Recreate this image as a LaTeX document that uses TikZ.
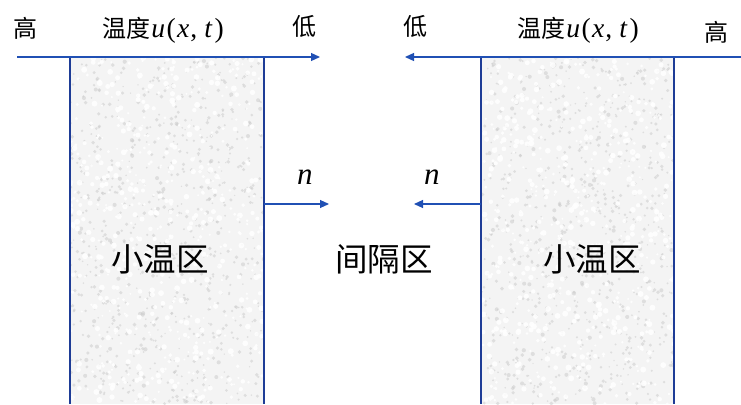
\documentclass[tikz,border=0pt]{standalone}
\usepackage{fontspec}
\newfontfamily\cjk{Noto Sans CJK SC}
\newfontfamily\serif[Scale=1.15]{Liberation Serif}
\newcommand{\uxt}{{\serif\kern1pt{\itshape u}\kern1.5pt(\kern1.5pt{\itshape x}\kern1pt,\kern7pt{\itshape t}\kern2.5pt)}}
\usetikzlibrary{arrows.meta}
\definecolor{lineblue}{RGB}{32,80,180}
\definecolor{edgeblue}{RGB}{30,60,150}
\tikzset{
  axis/.style={draw=lineblue, line width=1.3pt, -{Triangle[length=9pt,width=8pt]}},
  normal/.style={draw=lineblue, line width=1.1pt, -{Triangle[length=9pt,width=8pt]}},
  wall/.style={draw=edgeblue, line width=1.3pt},
  toplabel/.style={font=\cjk\fontsize{24}{28}\selectfont, inner sep=0pt},
  zonelabel/.style={font=\cjk\fontsize{32.5}{36}\selectfont, inner sep=0pt},
  nlabel/.style={font=\serif\itshape\fontsize{27}{30}\selectfont, inner sep=0pt},
}
\begin{document}
\begin{tikzpicture}[x=1pt,y=-1pt]
\useasboundingbox (0,0) rectangle (741,404);
% textured fills
\pgfmathsetseed{7}
\foreach \xa/\xb in {70/264, 481/674}{
  \begin{scope}
    \clip (\xa,57) rectangle (\xb,404);
    \fill[gray!9] (\xa,57) rectangle (\xb,404);
    \foreach \i in {1,...,800}{
      \pgfmathsetmacro{\px}{\xa+rnd*(\xb-\xa)}
      \pgfmathsetmacro{\py}{57+rnd*347}
      \pgfmathsetmacro{\rr}{0.7+rnd*1.4}
      \fill[gray!40, opacity=0.55] (\px,\py) circle[radius=\rr];
    }
    \foreach \i in {1,...,600}{
      \pgfmathsetmacro{\px}{\xa+rnd*(\xb-\xa)}
      \pgfmathsetmacro{\py}{57+rnd*347}
      \pgfmathsetmacro{\rr}{1+rnd*2}
      \fill[white, opacity=0.85] (\px,\py) circle[radius=\rr];
    }
  \end{scope}
}
% walls
\draw[wall] (70,57) -- (70,404);
\draw[wall] (264,57) -- (264,404);
\draw[wall] (481,57) -- (481,404);
\draw[wall] (674,57) -- (674,404);
% axis coordinates
\coordinate (axL0) at (17,57);
\coordinate (axL1) at (320,57);
\coordinate (axR0) at (741,57);
\coordinate (axR1) at (405,57);
\draw[axis] (axL0) -- (axL1);
\draw[axis] (axR0) -- (axR1);
% normals
\coordinate (nL0) at (264,204);
\coordinate (nL1) at (329,204);
\coordinate (nR0) at (481,204);
\coordinate (nR1) at (414,204);
\draw[normal] (nL0) -- (nL1);
\draw[normal] (nR0) -- (nR1);
% labels
\node[toplabel] (hiL) at (25,28) {高};
\node[toplabel] (tempL) at (163,30) {温度\uxt};
\node[toplabel] (loL) at (304,26) {低};
\node[toplabel] (loR) at (415,26) {低};
\node[toplabel] (tempR) at (578,30) {温度\uxt};
\node[toplabel] (hiR) at (716,32) {高};
\node[nlabel] (nLl) at (305,177) {n};
\node[nlabel] (nRl) at (432,177) {n};
\node[zonelabel] (zoneL) at (160,259) {小温区};
\node[zonelabel] (gap) at (384,259) {间隔区};
\node[zonelabel] (zoneR) at (592,259) {小温区};
\end{tikzpicture}
\end{document}
